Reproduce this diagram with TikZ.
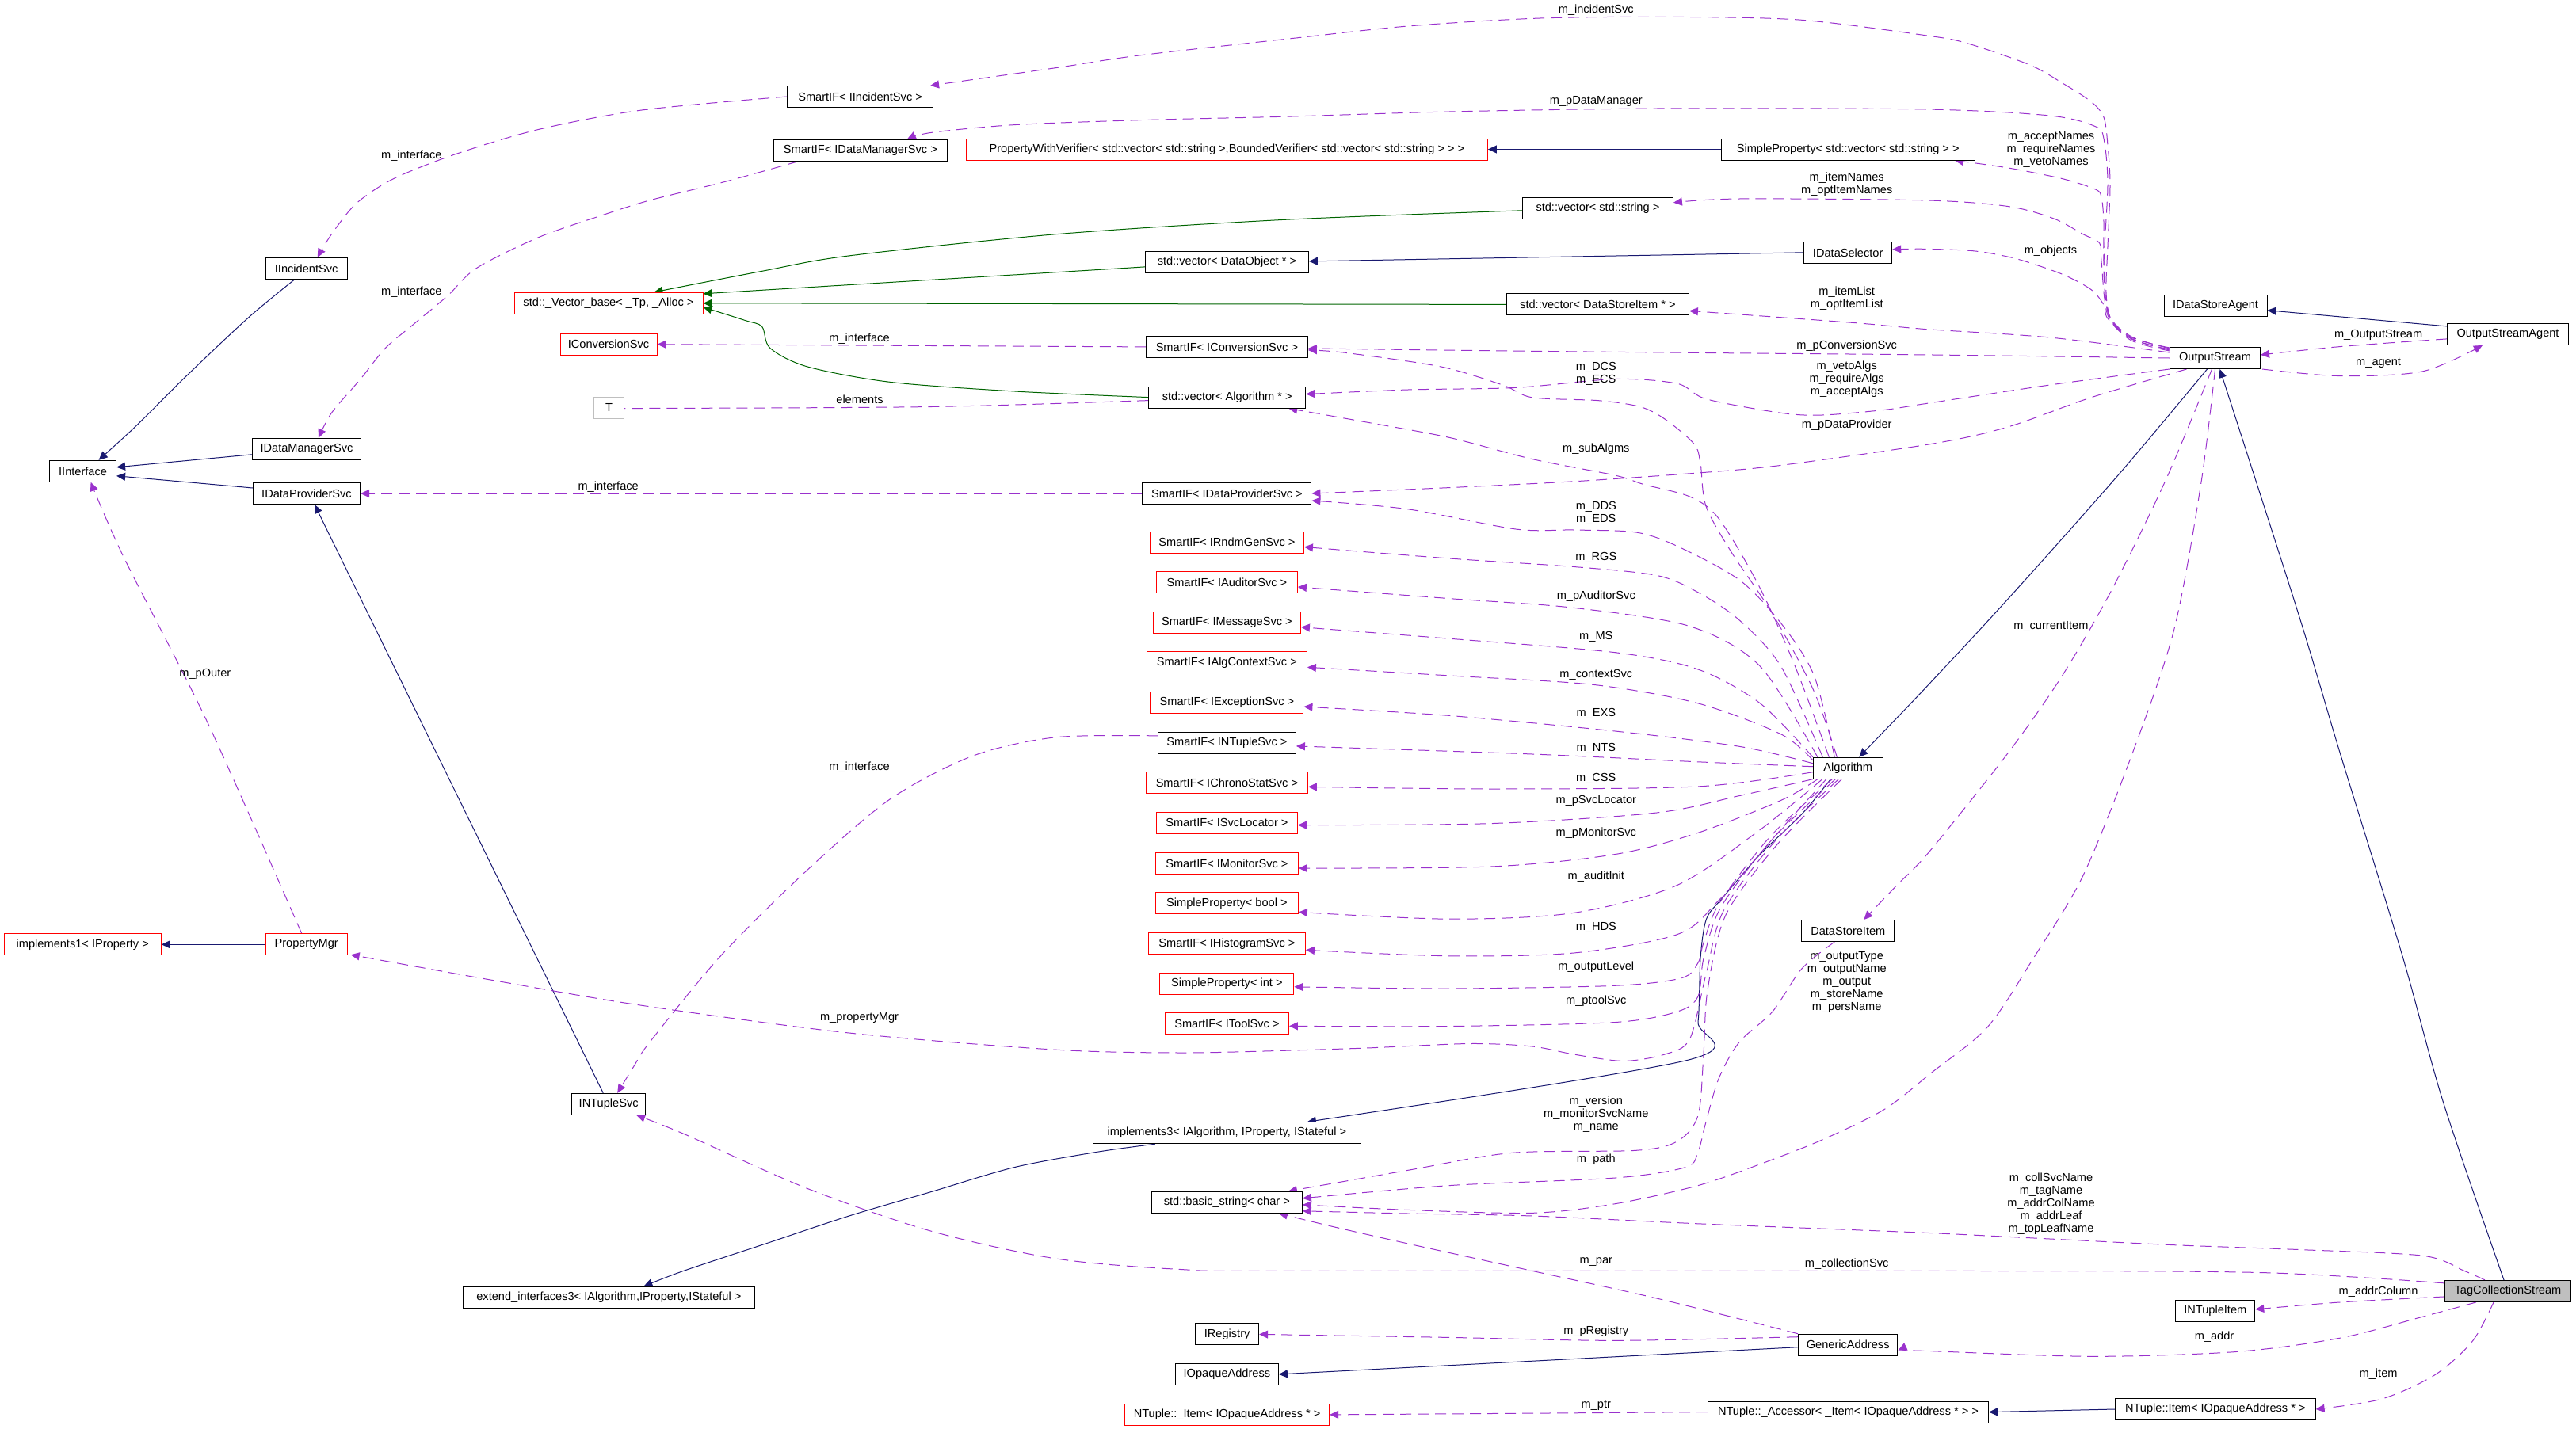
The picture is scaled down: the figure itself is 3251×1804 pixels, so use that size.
\documentclass[tikz,border=0pt]{standalone}
\usepackage{fontspec}
\setmainfont{Liberation Sans}
\usetikzlibrary{arrows.meta,calc}
\definecolor{purp}{HTML}{9A32CD}
\definecolor{navy}{HTML}{191970}
\definecolor{dgreen}{HTML}{006400}
\definecolor{lgray}{HTML}{BFBFBF}
\pgfdeclarelayer{bg}
\pgfsetlayers{bg,main}
\begin{document}
\begin{tikzpicture}[x=0.5pt,y=-0.5pt,
  font=\fontsize{7.3pt}{8pt}\selectfont,
  box/.style={draw=black,line width=0.5pt,fill=white,minimum height=13.5pt,inner xsep=1pt,inner ysep=0pt,anchor=center},
  rbox/.style={box,draw=red},
  bw/.style={minimum width=#1*0.5pt},
  inh/.style={draw=navy,line width=0.5pt,-{Triangle[length=5.5pt,width=5pt]}},
  tmpl/.style={draw=dgreen,line width=0.5pt,-{Triangle[length=5.5pt,width=5pt]}},
  usg/.style={draw=purp,line width=0.5pt,dash pattern=on 7pt off 4pt,-{Triangle[length=5.5pt,width=5pt]}},
  lbl/.style={inner sep=0pt,align=center,anchor=center}
]
\useasboundingbox (0,0) rectangle (3251,1804);
% ---------- nodes ----------
\node[box,bw=103] (n_iinc) at (386.7,338.9) {IIncidentSvc};
\node[box,bw=137] (n_idms) at (387,566.8) {IDataManagerSvc};
\node[box,bw=84] (n_iif) at (104.6,594.8) {IInterface};
\node[rbox,bw=238] (n_vb) at (768,382.8) {std::\_Vector\_base< \_Tp, \_Alloc >};
\node[rbox,bw=122] (n_icnv) at (768,434.7) {IConversionSvc};
\node[box,draw=lgray,bw=38] (n_T) at (768.5,514.9) {T};
\node[box,bw=184] (n_sinc) at (1085.6,122) {SmartIF< IIncidentSvc >};
\node[box,bw=219] (n_sdms) at (1085.9,189.6) {SmartIF< IDataManagerSvc >};
\node[rbox,bw=658] (n_pwv) at (1548.4,188.5) {PropertyWithVerifier< std::vector< std::string >,BoundedVerifier< std::vector< std::string > > >};
\node[box,bw=206] (n_vdo) at (1548.4,330.9) {std::vector< DataObject * >};
\node[box,bw=204] (n_scnv) at (1548.4,437.9) {SmartIF< IConversionSvc >};
\node[box,bw=198] (n_valg) at (1548.7,501.6) {std::vector< Algorithm * >};
\node[box,bw=320] (n_spvs) at (2332.2,188.5) {SimpleProperty< std::vector< std::string > >};
\node[box,bw=190] (n_vs) at (2016.4,262.8) {std::vector< std::string >};
\node[box,bw=111] (n_ids) at (2332.2,318.8) {IDataSelector};
\node[box,bw=230] (n_vdsi) at (2016.4,384.4) {std::vector< DataStoreItem * >};
\node[box,bw=130] (n_idsa) at (2796,385.7) {IDataStoreAgent};
\node[box,bw=153] (n_osa) at (3165,421.9) {OutputStreamAgent};
\node[box,bw=114] (n_os) at (2795.5,452) {OutputStream};
\node[box,bw=135] (n_idps) at (387,623) {IDataProviderSvc};
\node[rbox,bw=198] (n_impl1) at (104.3,1192.3) {implements1< IProperty >};
\node[rbox,bw=103] (n_pmgr) at (386.7,1192.3) {PropertyMgr};
\node[box,bw=213] (n_sdps) at (1548.4,623) {SmartIF< IDataProviderSvc >};
\node[rbox,bw=194] (n_srnd) at (1548.4,684.5) {SmartIF< IRndmGenSvc >};
\node[rbox,bw=178] (n_saud) at (1548.4,735) {SmartIF< IAuditorSvc >};
\node[rbox,bw=186] (n_smsg) at (1548.4,785.7) {SmartIF< IMessageSvc >};
\node[rbox,bw=202] (n_sctx) at (1548.4,836.3) {SmartIF< IAlgContextSvc >};
\node[rbox,bw=193] (n_sexc) at (1548.4,887.1) {SmartIF< IExceptionSvc >};
\node[box,bw=174] (n_snts) at (1548.4,937.9) {SmartIF< INTupleSvc >};
\node[rbox,bw=204] (n_schr) at (1548.4,988.3) {SmartIF< IChronoStatSvc >};
\node[rbox,bw=178] (n_ssvc) at (1548.4,1038.6) {SmartIF< ISvcLocator >};
\node[rbox,bw=180] (n_smon) at (1548.4,1090) {SmartIF< IMonitorSvc >};
\node[rbox,bw=180] (n_spb) at (1548.4,1140.4) {SimpleProperty< bool >};
\node[rbox,bw=198] (n_shis) at (1548.4,1191.3) {SmartIF< IHistogramSvc >};
\node[rbox,bw=169] (n_spi) at (1548.4,1241.8) {SimpleProperty< int >};
\node[rbox,bw=156] (n_stool) at (1548.4,1292.3) {SmartIF< IToolSvc >};
\node[box,bw=338] (n_impl3) at (1548.4,1430.2) {implements3< IAlgorithm, IProperty, IStateful >};
\node[box,bw=190] (n_bstr) at (1548.4,1517.8) {std::basic\_string< char >};
\node[box,bw=80] (n_ireg) at (1548.6,1684.4) {IRegistry};
\node[box,bw=130] (n_ioa) at (1548.4,1734.9) {IOpaqueAddress};
\node[rbox,bw=258] (n_nitemU) at (1548.6,1785.9) {NTuple::\_Item< IOpaqueAddress * >};
\node[box,bw=93] (n_intsvc) at (768.2,1393.8) {INTupleSvc};
\node[box,bw=367.5] (n_ext3) at (768.4,1637.8) {extend\_interfaces3< IAlgorithm,IProperty,IStateful >};
\node[box,bw=88] (n_alg) at (2332.3,969.7) {Algorithm};
\node[box,bw=117] (n_dsi) at (2332.3,1175) {DataStoreItem};
\node[box,bw=125.5] (n_ga) at (2332.2,1697.7) {GenericAddress};
\node[box,bw=354] (n_acc) at (2332.5,1782.6) {NTuple::\_Accessor< \_Item< IOpaqueAddress * > >};
\node[box,bw=100] (n_intitem) at (2795.8,1654.9) {INTupleItem};
\node[box,fill=lgray,bw=158.5] (n_tcs) at (3165,1629.9) {TagCollectionStream};
\node[box,bw=252.6] (n_item) at (2795.8,1779) {NTuple::Item< IOpaqueAddress * >};
% ---------- edges ----------
\begin{pgfonlayer}{bg}
% inheritance
\draw[inh] plot[smooth] coordinates {($(n_iinc.south)+(-15,0)$) (313.8,400.7) (235.3,474.6) (172.6,536.9) ($(n_iif.north)+(20,0)$)};
\draw[inh] ($(n_idms.west)+(0,7)$) -- ($(n_iif.east)+(0,-5)$);
\draw[inh] ($(n_idps.west)+(0,-7)$) -- ($(n_iif.east)+(0,6)$);
\draw[inh] (n_spvs.west) -- (n_pwv.east);
\draw[inh] (n_ids.west) -- ($(n_vdo.east)+(0,-1)$);
\draw[inh] (n_pmgr.west) -- (n_impl1.east);
\draw[inh] ($(n_intsvc.north)+(-7,0)$) -- ($(n_idps.south)+(10,0)$);
\draw[inh] ($(n_osa.west)+(0,-10)$) -- ($(n_idsa.east)+(0,6)$);
\draw[inh] plot[smooth] coordinates {($(n_os.south)+(-10,0)$) (2673,600) (2534.6,755.6) (2430,868.4) ($(n_alg.north)+(14,0)$)};
\draw[inh] plot[smooth] coordinates {($(n_tcs.north)+(-5,0)$) (3083.8,1392.6) (3031.4,1205) (2953,950) (2900.7,775) ($(n_os.south)+(6,0)$)};
\draw[inh] plot[smooth] coordinates {($(n_alg.south)+(-22,0)$) (2273.8,1027.9) (2221.4,1078.5) (2174.4,1132.9) (2153.5,1160.2) (2146,1210) (2143,1290) (2131,1338) ($(n_impl3.north east)+(-68,0)$)};
\draw[inh] plot[smooth] coordinates {($(n_impl3.south west)+(79,0)$) (1385,1454.2) (1280.6,1473.5) (1176,1504.3) (1071.5,1535) (966.9,1569.8) (862.3,1604.5) ($(n_ext3.north)+(44,0)$)};
\draw[inh] ($(n_ga.west)+(0,3)$) -- (n_ioa.east);
\draw[inh] (n_item.west) -- (n_acc.east);
% template
\draw[tmpl] plot[smooth] coordinates {($(n_vs.west)+(0,3)$) (1620,277.4) (1333,295.7) (1071.5,322.9) (961.7,342.3) ($(n_vb.north east)+(-62,0)$)};
\draw[tmpl] ($(n_vdo.west)+(0,6)$) -- ($(n_vb.north east)+(0,2)$);
\draw[tmpl] (n_vdsi.west) -- (n_vb.east);
\draw[tmpl] plot[smooth] coordinates {(n_valg.west) (1280.6,494) (1123.8,482.4) (1019.2,463) (972,439.6) (961.7,412.4) (940.7,404.6) ($(n_vb.east)+(0,5)$)};
% usage
\draw[usg] plot[smooth] coordinates {(n_sinc.west) (810,139) (679.8,163.4) (575.3,194.5) (496.8,225.6) (449.7,256.8) (418.4,295.7) ($(n_iinc.north)+(14,0)$)};
\draw[usg] plot[smooth] coordinates {($(n_sdms.south west)+(32,0)$) (914.6,229.5) (820,252.9) (758.3,272.3) (679.8,299.6) (601.4,338.5) (564.8,373.5) (523,408.5) (486.3,439.6) (455,478.5) (418.4,521.3) ($(n_idms.north)+(15,0)$)};
\draw[usg] plot[smooth] coordinates {($(n_os.north west)+(0,4)$) (2691.5,428) (2665,405) (2658,370) (2660,311) (2663,233) (2660,183) (2655,148) (2639,128.4) (2603,105) (2561,81.7) (2482,54.5) (2430,44.7) (2274,25.3) (2117,21.4) (1944,23) (1777,33) (1630,48.6) (1437.5,70) (1333,85.6) ($(n_sinc.north east)+(-4,0)$)};
\draw[usg] plot[smooth] coordinates {($(n_os.north west)+(0,2)$) (2690,425) (2662,398) (2655,340) (2660,233) (2655,175) (2644,159.5) (2587,146) (2430,138) (2091,137) (1829,141) (1630,147) (1437.5,151.7) (1280.6,157.6) (1176,167.3) ($(n_sdms.north)+(59,0)$)};
\draw[usg] plot[smooth] coordinates {($(n_os.north west)+(0,1)$) (2690,426) (2661,398) (2655,330) (2655,280) (2652,249) (2644.4,239) (2602.6,225.6) (2534.6,212) ($(n_spvs.south east)+(-26,0)$)};
\draw[usg] plot[smooth] coordinates {($(n_os.north west)+(0,3)$) (2690,428) (2660,398) (2652,330) (2649.7,307) (2628.7,295.6) (2592,276) (2534.6,260.6) (2430,252.9) (2195,251) ($(n_vs.east)+(0,-7)$)};
\draw[usg] plot[smooth] coordinates {($(n_os.north west)+(0,5)$) (2690,430) (2660,402) (2655,385) (2639.2,365.7) (2602.6,346.2) (2545,326.8) (2492.8,317) (2430,314.3) ($(n_ids.east)+(0,-4)$)};
\draw[usg] plot[smooth] coordinates {($(n_os.north west)+(0,7)$) (2587,426) (2430,415.5) (2352,408.5) (2247.6,400.7) ($(n_vdsi.east)+(0,8)$)};
\draw[usg] plot[smooth] coordinates {(n_os.west) (2440,448) (2143,445.4) (1881.5,442.7) ($(n_scnv.east)+(0,2)$)};
\draw[usg] plot[smooth] coordinates {(n_os.south west) (2587,486) (2430,509.6) (2378.4,517.4) (2300,524) (2247.6,521.3) (2153.5,503.8) (2116.8,484.3) (2038.4,478.5) (1913,489.4) (1777,492) ($(n_valg.east)+(0,-4)$)};
\draw[usg] plot[smooth] coordinates {($(n_os.south)+(-36,0)$) (2639,501.8) (2534.6,538.8) (2440,560) (2247.6,587.4) (2143,597) (1986,607.8) (1829,615.6) (n_sdps.east)};
\draw[usg] plot[smooth] coordinates {($(n_os.south)+(-4,0)$) (2733.3,605.8) (2665.4,744) (2602.6,852.9) (2534.6,950) (2435,1075) (2394,1117.4) ($(n_dsi.north)+(20,0)$)};
\draw[usg] plot[smooth] coordinates {(n_os.south) (2777.8,610) (2743.8,794.5) (2691.5,950) (2628.7,1105.7) (2566,1210) (2508.5,1296.3) (2437.8,1354) (2378.4,1400.3) (2300,1438.8) (2221.4,1469.6) (2143,1496.6) (2038.4,1519.7) (1933.8,1531.3) (1777,1527.4) ($(n_bstr.east)+(0,3)$)};
\draw[usg] plot[smooth] coordinates {($(n_alg.north)+(-24,0)$) (2265,840) (2220,740) (2169,654.5) (2132.5,627) (2075,611.7) (2038,600) (1933.8,579.6) (1829.2,552.4) (1724.6,533) ($(n_valg.south east)+(-22,0)$)};
\draw[usg] plot[smooth] coordinates {($(n_alg.north)+(-14,0)$) (2289,872) (2237,775) (2185,697) (2153,639) (2146,585) (2137.8,560.2) (2101,529) (2069.8,513.5) (2017.5,505.7) (1933.8,501.8) (1897,486.3) (1818.7,463) (1698.5,445.4) ($(n_scnv.east)+(0,4)$)};
\draw[usg] plot[smooth] coordinates {($(n_alg.north)+(-17,0)$) (2289.4,852.9) (2247.6,786.7) (2195,732) (2116.8,689.5) (2064.6,672) (1986,669) (1913,668) (1777,642.8) ($(n_sdps.east)+(0,9)$)};
\draw[usg] plot[smooth] coordinates {($(n_alg.north)+(-32,0)$) (2247.6,841.2) (2195,782.8) (2143,747.8) (2090.7,726.4) (1986,715.5) (1829.2,705) ($(n_srnd.east)+(0,6)$)};
\draw[usg] plot[smooth] coordinates {($(n_alg.north west)+(6,0)$) (2221.4,841.2) (2132.5,790.6) (1986,767.3) (1829,755.6) ($(n_saud.east)+(0,6)$)};
\draw[usg] plot[smooth] coordinates {(n_alg.north west) (2221.4,887.9) (2143,845) (2038.4,823.7) (1829,806.2) ($(n_smsg.east)+(0,6)$)};
\draw[usg] plot[smooth] coordinates {($(n_alg.west)+(0,-10)$) (2247.6,926.8) (2143,887.9) (2012,864.5) (1829,852.9) ($(n_sctx.east)+(0,6)$)};
\draw[usg] plot[smooth] coordinates {($(n_alg.west)+(0,-6)$) (2195,942.3) (2038.4,923) (1829,903.4) ($(n_sexc.east)+(0,5)$)};
\draw[usg] plot[smooth] coordinates {($(n_alg.west)+(0,-2)$) (2143,961.8) (1933.8,952) ($(n_snts.east)+(0,4)$)};
\draw[usg] plot[smooth] coordinates {($(n_alg.west)+(0,5)$) (2143,992.9) (1881.5,996) ($(n_schr.east)+(0,5)$)};
\draw[usg] plot[smooth] coordinates {(n_alg.south west) (2195,1004.6) (2090.7,1026) (1881.5,1039.6) ($(n_ssvc.east)+(0,3)$)};
\draw[usg] plot[smooth] coordinates {($(n_alg.south west)+(6,0)$) (2247.6,1010.4) (2143,1051.3) (2038.4,1078.5) (1881.5,1094) ($(n_smon.east)+(0,6)$)};
\draw[usg] plot[smooth] coordinates {($(n_alg.south west)+(12,0)$) (2221.4,1047.4) (2116.8,1117.4) (1986,1152.4) (1829,1160.2) ($(n_spb.east)+(0,11)$)};
\draw[usg] plot[smooth] coordinates {($(n_alg.south west)+(17,0)$) (2247.6,1047) (2169,1136.8) (2116.8,1179.6) (1986,1203) (1829,1206.8) ($(n_shis.east)+(0,8)$)};
\draw[usg] plot[smooth] coordinates {($(n_alg.south)+(-20,0)$) (2235,1055) (2170,1140) (2150,1190) (2143,1215.4) (2122,1234.7) (2038.4,1244.3) (1829,1248) ($(n_spi.east)+(0,4)$)};
\draw[usg] plot[smooth] coordinates {($(n_alg.south)+(-16,0)$) (2238,1058) (2172,1145) (2150,1210) (2143,1257.8) (2117,1277) (2038.4,1290.5) (1829,1295.5) ($(n_stool.east)+(0,3)$)};
\draw[usg] plot[smooth] coordinates {($(n_alg.south)+(-12,0)$) (2240,1062) (2175,1150) (2153,1230) (2132.5,1311.7) (2101,1331) (2048.9,1339.4) (1986,1331) (1933.8,1321) (1855,1317.5) (1724.6,1323) (1620,1326.3) (1489.8,1329) (1333,1325.2) (1071.5,1304) (810,1269.3) (627.6,1238.5) ($(n_pmgr.south east)+(4,-1)$)};
\draw[usg] plot[smooth] coordinates {($(n_alg.south)+(-8,0)$) (2243,1066) (2178,1155) (2155,1250) (2150,1330) (2143,1408) (2116.8,1440.8) (2064.6,1452.3) (1907.7,1455.4) (1777,1477.3) ($(n_bstr.north east)+(-18,0)$)};
\draw[usg] plot[smooth] coordinates {($(n_dsi.south)+(-17,0)$) (2273.8,1223) (2237,1277) (2195,1315.6) (2169,1361.8) (2152,1420) (2143,1454) (2127.3,1473.5) (2038.4,1487) (1829,1496.6) ($(n_bstr.east)+(0,-5)$)};
\draw[usg] plot[smooth] coordinates {($(n_snts.west)+(0,-9)$) (1333,930.7) (1228.4,954) (1123.8,1008.5) (1019.2,1098) (909.4,1206.9) (820,1315.6) (800,1346) ($(n_intsvc.north)+(11,0)$)};
\draw[usg] (n_sdps.west) -- (n_idps.east);
\draw[usg] (n_scnv.west) -- (n_icnv.east);
\draw[usg] plot[smooth] coordinates {($(n_valg.west)+(0,4)$) (1176,513.5) (810,515.5) (n_T.east)};
\draw[usg] plot[smooth] coordinates {($(n_pmgr.north)+(-6,0)$) (261.5,911.2) (156.9,705) ($(n_iif.south)+(10,0)$)};
\draw[usg] plot[smooth] coordinates {($(n_tcs.north)+(-29,0)$) (3110,1604.4) (3057.6,1585.2) (2900.7,1577.5) (2743.8,1571.7) (2587,1564) (2430,1556.3) (2143,1544.8) (1933.8,1535) (1777,1532) ($(n_bstr.east)+(0,11)$)};
\draw[usg] plot[smooth] coordinates {($(n_tcs.west)+(0,-10)$) (2848.4,1606.4) (2430,1604.4) (1620,1604.4) (1489.9,1602.5) (1333,1589) (1176,1554.4) (1019.2,1500.5) (862.3,1431.1) ($(n_intsvc.south east)+(-12,0)$)};
\draw[usg] plot[smooth] coordinates {(n_ga.north west) (2090.7,1639) (1933.8,1604.4) (1777,1570) (1680,1548) ($(n_bstr.south east)+(-30,0)$)};
\draw[usg] plot[smooth] coordinates {($(n_ga.west)+(0,-10)$) (2038.4,1692.3) (1829,1688.4) (n_ireg.east)};
\draw[usg] (n_acc.west) -- (n_nitemU.east);
\draw[usg] plot[smooth] coordinates {($(n_tcs.west)+(0,7)$) (2953,1644) ($(n_intitem.east)+(0,-2)$)};
\draw[usg] plot[smooth] coordinates {($(n_tcs.south)+(-40,0)$) (3057.6,1662.2) (2953,1689.2) (2822,1706.5) (2639.2,1712.3) (2430,1705.4) ($(n_ga.east)+(0,7)$)};
\draw[usg] plot[smooth] coordinates {($(n_tcs.south)+(-18,0)$) (3120.4,1693) (3073.3,1735.4) (3005.3,1766.2) (n_item.east)};
\draw[usg] plot[smooth] coordinates {($(n_osa.west)+(0,6)$) (2953,437.6) ($(n_os.east)+(0,-4)$)};
\draw[usg] plot[smooth] coordinates {($(n_os.south east)+(2,0)$) (2953,474.6) (3057.6,468.8) ($(n_osa.south)+(-32,0)$)};
\end{pgfonlayer}
% ---------- labels ----------
\node[lbl] (l01) at (519.3,196.9) {m\_interface};
\node[lbl] (l02) at (519.3,368.8) {m\_interface};
\node[lbl] (l03) at (1084.5,427.5) {m\_interface};
\node[lbl] (l04) at (1085,504.6) {elements};
\node[lbl] (l05) at (2014.3,12.8) {m\_incidentSvc};
\node[lbl] (l06) at (2014.3,127.6) {m\_pDataManager};
\node[lbl] (l07) at (2330.7,232.8) {m\_itemNames\\m\_optItemNames};
\node[lbl] (l08) at (2330.7,376.8) {m\_itemList\\m\_optItemList};
\node[lbl] (l09) at (2330.7,436.9) {m\_pConversionSvc};
\node[lbl] (l10) at (2014.3,471.7) {m\_DCS\\m\_ECS};
\node[lbl] (l11) at (2330.7,478.8) {m\_vetoAlgs\\m\_requireAlgs\\m\_acceptAlgs};
\node[lbl] (l12) at (2330.7,536.9) {m\_pDataProvider};
\node[lbl] (l13) at (2014.3,566.8) {m\_subAlgms};
\node[lbl] (l14) at (2588.5,188.7) {m\_acceptNames\\m\_requireNames\\m\_vetoNames};
\node[lbl] (l15) at (2588,316.7) {m\_objects};
\node[lbl] (l16) at (3001.6,422.5) {m\_OutputStream};
\node[lbl] (l17) at (3001.6,458.7) {m\_agent};
\node[lbl] (l18) at (258.9,850.5) {m\_pOuter};
\node[lbl] (l19) at (767.7,614.8) {m\_interface};
\node[lbl] (l20) at (1084.5,968.8) {m\_interface};
\node[lbl] (l21) at (2014.3,647.7) {m\_DDS\\m\_EDS};
\node[lbl] (l22) at (2014.3,703.9) {m\_RGS};
\node[lbl] (l23) at (2014.3,752.5) {m\_pAuditorSvc};
\node[lbl] (l24) at (2014.3,803.9) {m\_MS};
\node[lbl] (l25) at (2014.3,851.7) {m\_contextSvc};
\node[lbl] (l26) at (2014.3,900.7) {m\_EXS};
\node[lbl] (l27) at (2014.3,944.7) {m\_NTS};
\node[lbl] (l28) at (2014.3,982.8) {m\_CSS};
\node[lbl] (l29) at (2014.3,1010.8) {m\_pSvcLocator};
\node[lbl] (l30) at (2014.3,1051.7) {m\_pMonitorSvc};
\node[lbl] (l31) at (2014.3,1106.9) {m\_auditInit};
\node[lbl] (l32) at (2014.3,1170.7) {m\_HDS};
\node[lbl] (l33) at (2330.7,1239.9) {m\_outputType\\m\_outputName\\m\_output\\m\_storeName\\m\_persName};
\node[lbl] (l34) at (2588.4,790.6) {m\_currentItem};
\node[lbl] (l35) at (1084.5,1284.7) {m\_propertyMgr};
\node[lbl] (l36) at (2014.3,1220.8) {m\_outputLevel};
\node[lbl] (l37) at (2014.3,1263.9) {m\_ptoolSvc};
\node[lbl] (l38) at (2014.3,1406.7) {m\_version\\m\_monitorSvcName\\m\_name};
\node[lbl] (l39) at (2014.3,1463.9) {m\_path};
\node[lbl] (l40) at (2014.3,1592.9) {m\_par};
\node[lbl] (l41) at (2330.7,1595.6) {m\_collectionSvc};
\node[lbl] (l42) at (2014.3,1680.7) {m\_pRegistry};
\node[lbl] (l43) at (2014.3,1774.7) {m\_ptr};
\node[lbl] (l44) at (2588.5,1519.8) {m\_collSvcName\\m\_tagName\\m\_addrColName\\m\_addrLeaf\\m\_topLeafName};
\node[lbl] (l45) at (3001.6,1630.7) {m\_addrColumn};
\node[lbl] (l46) at (2794.5,1687.7) {m\_addr};
\node[lbl] (l47) at (3001.6,1734.7) {m\_item};
\end{tikzpicture}
\end{document}
